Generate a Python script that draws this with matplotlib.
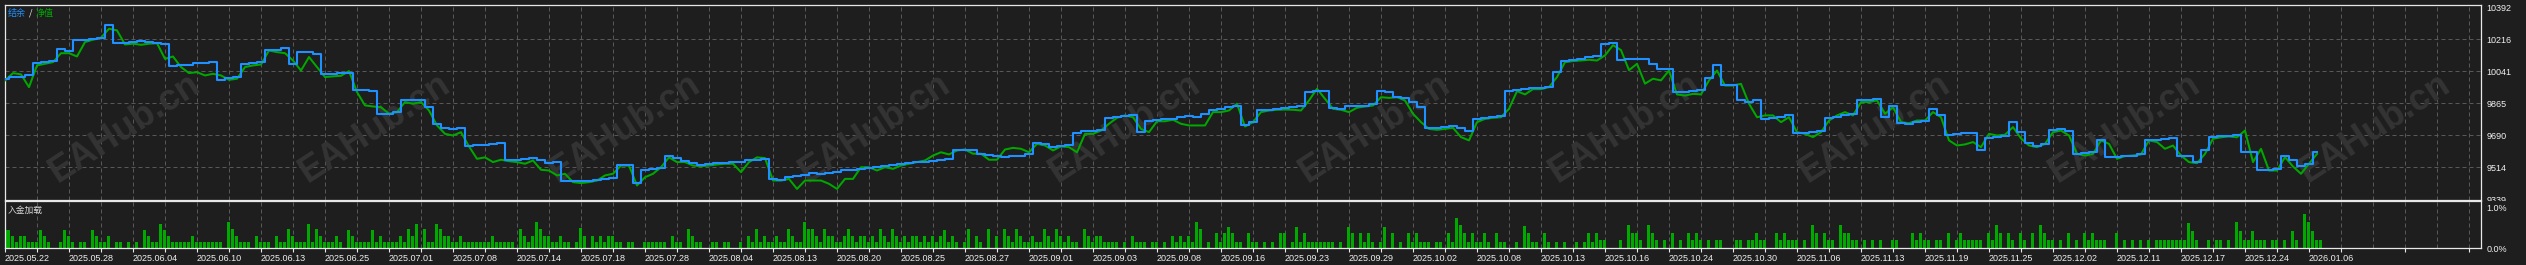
import matplotlib
matplotlib.use('Agg')
import matplotlib.pyplot as plt
from matplotlib.patches import Rectangle
import numpy as np

plt.rcParams['font.family'] = ['Liberation Sans', 'Noto Sans CJK SC', 'DejaVu Sans']

# balance (blue) and equity (green), one reading every 2 chart bars
balance = [
    10001, 10010, 10013, 10019, 10087, 10092, 10098, 10165, 10152, 10215,
    10215, 10220, 10226, 10297, 10196, 10196, 10204, 10206, 10202, 10198,
    10193, 10070, 10074, 10079, 10085, 10090, 10092, 9995, 10004, 10010,
    10083, 10087, 10092, 10160, 10161, 10171, 10083, 10147, 10147, 10138,
    10025, 10026, 10030, 10034, 9940, 9937, 9933, 9809, 9809, 9816,
    9882, 9887,
    9886, 9845, 9754, 9730, 9727, 9732, 9635, 9637, 9639, 9644,
    9648, 9553, 9557, 9560, 9564, 9553, 9540, 9544, 9443, 9440,
    9443, 9443, 9447, 9452, 9458, 9527, 9529, 9429, 9498, 9505,
    9513, 9578, 9566, 9549, 9538, 9529, 9535, 9537, 9540, 9544,
    9544, 9553, 9557, 9560, 9449, 9447, 9461, 9467, 9474, 9483,
    9480, 9485, 9491, 9498, 9502, 9507, 9513, 9516, 9522, 9529,
    9535, 9538, 9542, 9546, 9549, 9555, 9560, 9613, 9613, 9608,
    9586, 9584, 9575, 9571, 9577, 9580, 9586, 9650, 9644, 9626,
    9631, 9639, 9705, 9712, 9717, 9721, 9787, 9792, 9796, 9800,
    9708, 9772, 9774, 9778, 9781, 9790, 9796, 9790, 9809, 9831,
    9836, 9845, 9849, 9750, 9763,
    9827, 9831, 9834, 9838, 9845, 9851, 9928, 9933, 9933, 9842,
    9836, 9849, 9849, 9854, 9864, 9933, 9928, 9900, 9896, 9873,
    9845, 9732, 9732, 9736, 9741, 9732, 9717, 9781, 9787, 9790,
    9796, 9933, 9937, 9946, 9950, 9952, 9955, 10037, 10101, 10105,
    10110, 10119, 10123, 10193, 10196, 10105, 10107, 10110, 10110, 10083,
    10056, 10056,
    9928, 9931, 9933, 9937, 10004, 10074, 9964, 9969, 9882, 9876,
    9882, 9781, 9787, 9790, 9800, 9703, 9703, 9708, 9717, 9787,
    9794, 9800, 9809, 9882, 9886, 9891, 9790, 9854, 9757, 9754,
    9763, 9772, 9836, 9800, 9690, 9699, 9703, 9705, 9608, 9676,
    9680, 9686, 9763, 9708, 9648, 9635, 9641, 9721, 9725, 9717,
    9589, 9593, 9598, 9663, 9571,
    9571, 9577, 9580, 9589, 9663, 9667, 9672, 9676, 9580, 9575,
    9544, 9608, 9681, 9685, 9689, 9694, 9598, 9598, 9498, 9498,
    9507, 9580, 9557, 9525, 9531, 9598,
]

equity = [
    9992, 10032, 10025, 9955, 10074, 10083, 10092, 10141, 10141, 10123,
    10202, 10215, 10226, 10275, 10266, 10189, 10193, 10187, 10193, 10196,
    10110, 10123, 10065, 10032, 10037, 10019, 10028, 10019, 9995, 10001,
    10065, 10074, 10079, 10156, 10147, 10141, 10101, 10046, 10120, 10065,
    10010, 10014, 10017, 10043, 9928, 9855, 9849, 9845, 9809, 9818,
    9873, 9864,
    9873, 9827, 9745, 9699, 9690, 9708, 9630, 9562, 9570, 9544,
    9557, 9549, 9544, 9535, 9553, 9502, 9498, 9471, 9480, 9434,
    9429, 9434, 9443, 9471, 9480, 9525, 9525, 9416, 9461, 9480,
    9516, 9570, 9544, 9544, 9525, 9522, 9525, 9531, 9535, 9535,
    9489, 9544, 9570, 9566, 9443, 9443, 9452, 9397, 9443, 9443,
    9443, 9425, 9397, 9452, 9452, 9516, 9516, 9498, 9516, 9507,
    9525, 9535, 9544, 9553, 9580, 9598, 9586, 9608, 9613, 9590,
    9590, 9557, 9557, 9613, 9622, 9617, 9598, 9644, 9635, 9608,
    9630, 9626, 9598, 9699, 9699, 9717, 9754, 9787, 9800, 9790,
    9726, 9708, 9768, 9768, 9776, 9754, 9745, 9745, 9745, 9818,
    9818, 9827, 9864, 9739, 9763,
    9818, 9827, 9831, 9832, 9831, 9827, 9882, 9946, 9891, 9836,
    9831, 9818, 9842, 9849, 9854, 9900, 9896, 9900, 9882, 9809,
    9763, 9726, 9721, 9726, 9732, 9681, 9663, 9763, 9781, 9787,
    9790, 9836, 9933, 9915, 9944, 9944, 9955, 10010, 10092, 10098,
    10101, 10105, 10101, 10129, 10185, 10158, 10048, 10083, 9974, 10001,
    9992, 10046,
    9915, 9909, 9918, 9915, 9992, 10046, 9964, 9964, 9973, 9864,
    9790, 9800, 9800, 9763, 9790, 9708, 9699, 9681, 9708, 9772,
    9800, 9818, 9800, 9873, 9873, 9882, 9809, 9845, 9763, 9757,
    9772, 9772, 9818, 9790, 9663, 9635, 9641, 9654, 9626, 9699,
    9690, 9694, 9736, 9674, 9635, 9626, 9644, 9708, 9717, 9690,
    9589, 9580, 9589, 9663, 9644,
    9562, 9577, 9580, 9586, 9663, 9654, 9617, 9635, 9580, 9544,
    9538, 9589, 9672, 9680, 9685, 9680, 9717, 9544, 9617, 9498,
    9498, 9571, 9520, 9480, 9535, 9589,
]

# deposit load per chart bar, in percent
deposit_load = [
    .45, .30, .16, .30, .30, .16, .16, .16, .45, .30,
    .16, 0, 0, .16, .45, .30, .16, 0, .16, .16,
    0, .45, .30, .16, .16, .30, 0, .16, .16, 0,
    .16, 0, .16, 0, .45, .30, .16, .16, .60, .45,
    .30, .16, .16, .16, .16, .16, .30, .16, .16, .16,
    .16, .16, .16, .16, 0, .64, .48, .30, .16, .16,
    .16, 0, .30, .16, .16, .16, 0, .30, .16, .16,
    .48, .30, .16, .16, .16, .60, .16, .48, .30, .16,
    .16, .16, .30, .16, 0, .45, .30, .16, .16, .16,
    .16, .45, .16, .30, .16, .16, .16, .16, .30,
    .16, .48, .30, .60, 0, .48, .16, .16, .60, .48,
    .30, .30, .16, .16, .30, .16, .16, .16, .16, .16,
    .16, .16, .30, .16, .16, .16, .16, .16, 0, .48,
    .30, .16, .30, .65, .48, .30, .30, .16, .16, .30,
    .16, .16, 0, .16, .50, .30, 0, .30, .16, .30,
    .16, .30, .30, .16, .16, 0, .16, .16, 0, 0,
    .16, .16, .16, .16, .16, .16, 0, .30, .16, .16,
    0, .48, .30, .16, .16, 0, 0, .16, .16, 0,
    .16, .16, 0, 0, .16, 0, .30, .16, .48, .16,
    .30, .16, .16, .30, .16, .16, .48, .30, .16, .16,
    .64, .48, .48, .30, .16, .48, .30, .30, .16, .16,
    .30, .48, .30, .16, .30, .30, .16, .30, .16, .48,
    .30, .16, .48, .30, .16, .30, .16, .30, .30, .16,
    .30, .16, .30, .16, .30, .45, .16, .30, .16, 0,
    .16, .48, 0, .30, .16, 0, .48, 0, .30, 0,
    .48, .30, .16, .48, .30, .16, .16, .30, .16, .16,
    .48, .30, .16, .48, .30, .16, .30, .16, .16, 0,
    .48, .30, .16, .30, .30, .16, .16, .16, .16, 0,
    .16, 0, .30, .16, .16, .16, 0, .16, .16, 0,
    .16, 0, .30, .16, .30, .16, .30, .16, .64, .48,
    0, .16, 0, .36, .16, .36, .52, .36, .16, .16,
    0, .36, .16, .16, 0, .16, 0, .16, 0, .36,
    .36, 0, .16, .52, .16, .36, .16, .16, .16, .16,
    .16, .16, .16, 0, .16, 0, .52, .36, 0, .36,
    .16, .36, .16, 0, .16, .52, 0, .36, 0, .16,
    0, .36, .16, .36, .16, .16, .16, 0, .16, .16,
    0, .36, .16, .74, .58, .36, .16, .36, .16, .16,
    .36, .16, 0, .36, .16, .16, 0, 0, .16, 0,
    .54, .36, .16, .16, 0, .36, .16, 0, .16, 0,
    .16, 0, 0, .16, 0, .16, .36, .16, .36,
    .19, .19, 0, 0, 0, .19, 0, .58, .38, .38,
    .19, 0, .58, .38, .19, 0, .19, 0, .38, 0,
    .19, 0, .38, .19, .38, .19, 0, .19, 0, .19,
    .19, 0, 0, 0, .19, .19, 0, .19, .19, .38,
    .19, .19, 0, 0, .38, .19, .38, .19, .19, .19,
    0, .19, 0, .58, .38, 0, .38, .19, .19, 0,
    .58, .38, .38, .19, .19, 0, .19, 0, .19, 0,
    .19, 0, 0, .19, .19, 0, 0, 0, .38, .19,
    .38, .19, .19, 0, .19, .19, 0, .38, 0, .19,
    .38, .19, .19, .19, .19, .19, 0, .38, .19, .58, .38,
    0, .38, .19, 0, .38, .19, 0, .38, 0,
    .58, .38, .19, .19, 0, .19, 0, .38, 0, .19,
    0, .38, .19, .38, .19, .19, .19, 0, 0, .38,
    0, .19, 0, .19, 0, .19, 0, .19, 0, .19,
    .19, .19, .19, .19, .19, .19, .19, .62, .41, .19,
    0, 0, .19, 0, .19, .19, 0, .19, 0, .65,
    .41, .19, .19, .41, .19, .19, .19, 0, .19, .19,
    0, .19, 0, .41, .19, 0, .83, .65, .41, .19, .19,
]

date_labels = [
    '2025.05.22', '2025.05.28', '2025.06.04', '2025.06.10', '2025.06.13',
    '2025.06.25', '2025.07.01', '2025.07.08', '2025.07.14', '2025.07.18',
    '2025.07.28', '2025.08.04', '2025.08.13', '2025.08.20', '2025.08.25',
    '2025.08.27', '2025.09.01', '2025.09.03', '2025.09.08', '2025.09.16',
    '2025.09.23', '2025.09.29', '2025.10.02', '2025.10.08', '2025.10.13',
    '2025.10.16', '2025.10.24', '2025.10.30', '2025.11.06', '2025.11.13',
    '2025.11.19', '2025.11.25', '2025.12.02', '2025.12.11', '2025.12.17',
    '2025.12.24', '2026.01.06',
]
price_levels = [9339, 9514.5, 9690, 9865.5, 10041, 10216.5, 10392]
price_labels = ['9339', '9514', '9690', '9865', '10041', '10216', '10392']
load_levels = [0.0, 1.0]
load_labels = ['0.0%', '1.0%']

# look of the tester window
W, H = 2526, 265
BG = '#1e1e1e'
FRAME = '#e8e8e8'
GRID = '#585858'
BLUE = '#1e90ff'
GREEN = '#00a800'
TXT = '#f0f0f0'
N_VIEW = 619          # chart bars that fit in the window (4 px each)
SAMPLE = 2            # bars between two balance/equity readings
LABEL_EVERY = 16      # bars between two date labels
GRID_EVERY = 8


def box(left, top, right, bottom):
    return [left / W, 1 - bottom / H, (right - left) / W, (bottom - top) / H]


fig = plt.figure(figsize=(W / 100, H / 100), dpi=100, facecolor=BG)
ax = fig.add_axes(box(5, 4.5, 2481, 199.5))
ax2 = fig.add_axes(box(5, 201, 2481, 248), zorder=2)

for a in (ax, ax2):
    a.set_facecolor(BG)
    a.set_xlim(0, N_VIEW)
    for s in a.spines.values():
        s.set_color(FRAME)
        s.set_linewidth(0.9)
    for xv in range(GRID_EVERY, N_VIEW, GRID_EVERY):
        a.axvline(xv, color=GRID, lw=0.72, ls=(0, (4, 3)), zorder=0.5)

# main panel: balance / equity
ax.set_ylim(9339, 10408)
for yv in price_levels[1:-1]:
    ax.axhline(yv, color=GRID, lw=0.72, ls=(0, (4, 3)), zorder=0.5)

x_line = np.arange(len(balance)) * SAMPLE
ax.plot(x_line, equity, color=GREEN, lw=1.45, zorder=3)
ax.plot(x_line, balance, color=BLUE, lw=1.5, drawstyle='steps-mid', zorder=4)

ax.yaxis.tick_right()
ax.set_yticks(price_levels)
ax.set_yticklabels(price_labels)
ax.tick_params(axis='y', length=0, pad=4, labelsize=6.5, labelcolor=TXT)
ax.tick_params(axis='x', length=0, labelbottom=False)

# watermark
for cx in range(125, 2476, 250):
    ax.text((cx - 5) / 2476, 0.367, 'EAHub.cn', transform=ax.transAxes,
            rotation=33, ha='center', va='center', rotation_mode='anchor',
            fontsize=26, fontweight='bold', color='#343434', zorder=1,
            family=['Liberation Sans'], clip_on=True)

# lower panel: deposit load
x_bar = np.arange(len(deposit_load)) + 0.75
ax2.bar(x_bar, deposit_load, width=0.75, color=GREEN, linewidth=0, zorder=2)
ax2.set_ylim(0, 1.16)
ax2.yaxis.tick_right()
ax2.set_yticks(load_levels)
ax2.set_yticklabels(load_labels)
ax2.tick_params(axis='y', length=0, pad=4, labelsize=6.5, labelcolor=TXT)

ax2.set_xticks(np.arange(len(date_labels)) * LABEL_EVERY)
ax2.set_xticklabels(date_labels)
ax2.set_xticks(np.arange(GRID_EVERY, N_VIEW, LABEL_EVERY), minor=True)
ax2.tick_params(axis='x', which='both', length=3, width=0.8, color=FRAME,
                pad=1.5, labelsize=6.5, labelcolor=TXT)
for lbl in ax2.get_xticklabels():
    lbl.set_ha('left')

# the sub-window hides the lowest price label like the terminal does
fig.patches.append(Rectangle((2481.5 / W, 1 - 248 / H), (W - 2481.5) / W, 47.5 / H,
                             transform=fig.transFigure, facecolor=BG,
                             edgecolor='none', zorder=1))

# window captions
cjk = ['Noto Sans CJK SC', 'DejaVu Sans']
fig.text(8 / W, 1 - 13 / H, '结余', color=BLUE, fontsize=6.5, va='center', family=cjk)
fig.text(29 / W, 1 - 13 / H, '/', color=TXT, fontsize=6.5, va='center', family=cjk)
fig.text(36 / W, 1 - 13 / H, '净值', color=GREEN, fontsize=6.5, va='center', family=cjk)
fig.text(8 / W, 1 - 210 / H, '入金加载', color='#d8d8d8', fontsize=6.3, va='center', family=cjk)

fig.savefig('out.png', dpi=100, facecolor=BG)
plt.close(fig)
